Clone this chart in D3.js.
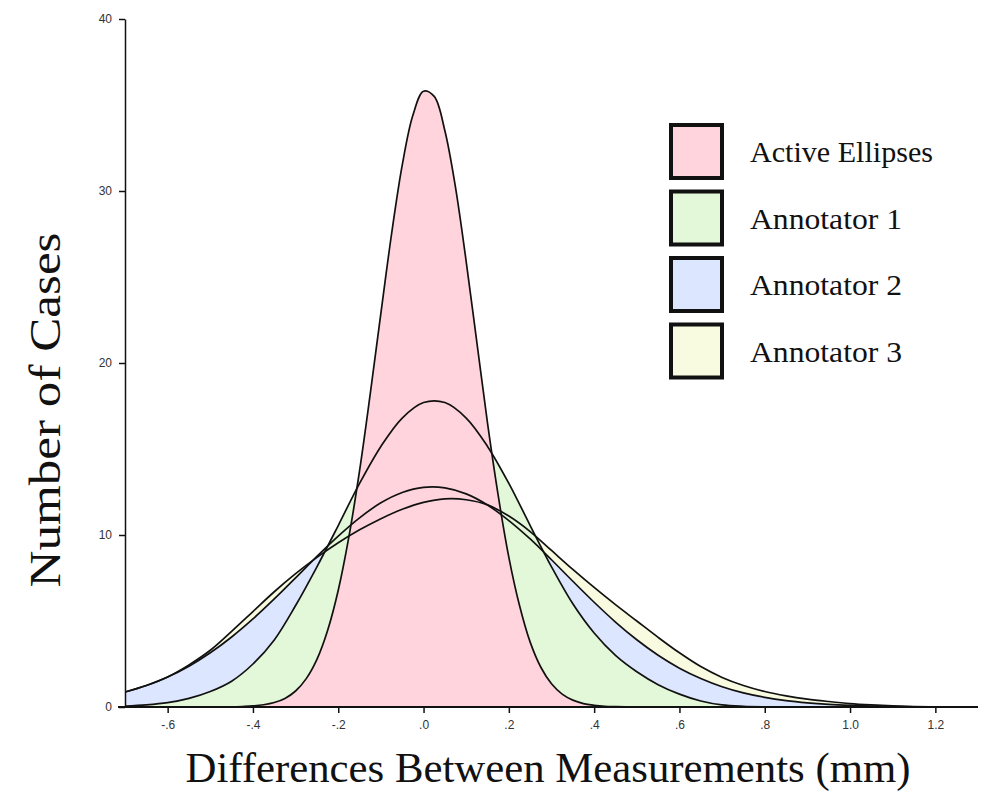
<!DOCTYPE html>
<html>
<head>
<meta charset="utf-8">
<script src="https://cdn.jsdelivr.net/npm/d3@7"></script>
<style>
  body { margin: 0; background: #fff; }
  svg { display: block; }
  .tick text { font-family: "Liberation Sans", Arial, sans-serif; font-size: 12px; fill: #333; }
  .title { font-family: "Liberation Serif", "Times New Roman", serif; fill: #111; }
</style>
</head>
<body>
<div id="chart"></div>
<script>
// --- data ---
const seriesNames = ["Active Ellipses", "Annotator 1", "Annotator 2", "Annotator 3"];
const seriesColors = ["#ffd4dc", "#e3f7d9", "#dde6ff", "#f9fbe0"];

// annotator curves share one x grid
const annX = [-0.7,-0.65,-0.6,-0.55,-0.5,-0.45,-0.4,-0.35,-0.3,-0.25,-0.2,-0.15,-0.1,-0.05,
  0,0.05,0.1,0.15,0.2,0.25,0.3,0.35,0.4,0.45,0.5,0.55,0.6,0.65,0.7,0.75,0.8,0.85,0.9,0.95,
  1.0,1.05,1.1,1.15,1.2,1.25,1.3];

const annotator1 = [0.05,0.12,0.25,0.5,0.9,1.5,2.5,3.9,5.9,8.15,10.55,13.0,15.15,16.8,
  17.7,17.7,16.8,15.15,13.0,10.55,8.15,6.0,4.3,3.0,2.05,1.3,0.75,0.35,0.12,0.04,0.01,0,0,0,
  0,0,0,0,0,0,0];

const annotator2 = [0.87,1.25,1.74,2.37,3.15,4.07,5.12,6.28,7.51,8.76,9.94,11.0,11.87,12.47,
  12.77,12.74,12.39,11.74,10.84,9.77,8.56,7.31,6.09,4.94,3.91,3.01,2.26,1.66,1.18,0.82,0.56,0.37,0.24,0.15,
  0.09,0.05,0.03,0.01,0,0,0];

const annotator3 = [0.87,1.25,1.75,2.45,3.3,4.4,5.55,6.7,7.75,8.7,9.55,10.3,10.95,11.5,
  11.9,12.1,12.05,11.75,11.1,10.2,9.1,8.0,6.95,5.95,5.0,4.05,3.15,2.35,1.72,1.25,0.9,0.65,0.46,0.32,
  0.2,0.12,0.06,0.02,0,0,0];

// active ellipses is narrow, so it gets a finer grid
const activeX = [-0.7,-0.5,-0.45,-0.425,-0.4,-0.375,-0.35,-0.325,-0.3,-0.275,-0.25,-0.225,-0.2,
  -0.175,-0.15,-0.125,-0.1,-0.075,-0.05,-0.025,0,0.025,0.05,0.075,0.1,0.125,0.15,0.175,0.2,
  0.225,0.25,0.275,0.3,0.325,0.35,0.375,0.4,0.425,0.45,0.5,0.6,1.3];
const activeEllipses = [0,0,0.01,0.03,0.06,0.13,0.26,0.50,0.93,1.65,2.77,4.45,6.79,
  9.9,13.74,18.2,22.9,27.5,31.5,34.4,35.8,35.5,33.5,30.2,25.9,21.2,16.5,12.3,8.7,
  5.9,3.77,2.31,1.35,0.75,0.40,0.20,0.10,0.04,0.02,0,0,0];

const xTicks = [-0.6,-0.4,-0.2,0,0.2,0.4,0.6,0.8,1.0,1.2];
const xTickLabels = ["-.6","-.4","-.2",".0",".2",".4",".6",".8","1.0","1.2"];
const yTicks = [0,10,20,30,40];

// --- setup ---
const width = 982, height = 796;
const svg = d3.select("#chart").append("svg")
    .attr("width", width)
    .attr("height", height);

const x = d3.scaleLinear().domain([-0.7, 1.3]).range([125, 978]);
const y = d3.scaleLinear().domain([0, 40]).range([707, 19]);

svg.append("clipPath").attr("id", "plot-clip")
  .append("rect")
    .attr("x", x(-0.7)).attr("y", y(40))
    .attr("width", x(1.3) - x(-0.7)).attr("height", y(0) - y(40));

// series in drawing order, back to front
const series = [
  { name: seriesNames[3], color: seriesColors[3], xs: annX, ys: annotator3 },
  { name: seriesNames[2], color: seriesColors[2], xs: annX, ys: annotator2 },
  { name: seriesNames[1], color: seriesColors[1], xs: annX, ys: annotator1 },
  { name: seriesNames[0], color: seriesColors[0], xs: activeX, ys: activeEllipses }
];

const area = d3.area()
    .x(d => x(d[0]))
    .y0(y(0))
    .y1(d => y(Math.max(0, d[1])))
    .curve(d3.curveCatmullRom.alpha(0.5));
const line = d3.line()
    .x(d => x(d[0]))
    .y(d => y(Math.max(0, d[1])))
    .curve(d3.curveCatmullRom.alpha(0.5));

const plot = svg.append("g").attr("clip-path", "url(#plot-clip)");

// fills first, then every outline on top
series.forEach(s => {
  plot.append("path")
      .datum(d3.zip(s.xs, s.ys))
      .attr("fill", s.color)
      .attr("d", area);
});
series.forEach(s => {
  plot.append("path")
      .datum(d3.zip(s.xs, s.ys))
      .attr("fill", "none")
      .attr("stroke", "#111")
      .attr("stroke-width", 1.7)
      .attr("d", line);
});

// --- axes ---
const yAxis = svg.append("g")
    .attr("transform", `translate(${x(-0.7)},0)`)
    .call(d3.axisLeft(y).tickValues(yTicks).tickSize(6).tickSizeOuter(0).tickPadding(7));
yAxis.select(".domain").attr("stroke", "#111").attr("stroke-width", 1.5);
yAxis.selectAll(".tick line").attr("stroke", "#111").attr("stroke-width", 1.5);

const xAxis = svg.append("g")
    .attr("transform", `translate(0,${y(0)})`)
    .call(d3.axisBottom(x).tickValues(xTicks)
      .tickFormat((d, i) => xTickLabels[i]).tickSize(6).tickSizeOuter(0).tickPadding(7));
xAxis.select(".domain").remove();
xAxis.selectAll(".tick line").attr("stroke", "#111").attr("stroke-width", 1.5);

svg.append("line")
    .attr("x1", x(-0.7) - 7).attr("x2", x(1.3))
    .attr("y1", y(0)).attr("y2", y(0))
    .attr("stroke", "#111").attr("stroke-width", 1.8);

// --- titles ---
svg.append("text")
    .attr("class", "title")
    .attr("x", 548).attr("y", 782)
    .attr("text-anchor", "middle")
    .attr("font-size", 42)
    .attr("textLength", 725)
    .attr("lengthAdjust", "spacingAndGlyphs")
    .text("Differences Between Measurements (mm)");

svg.append("text")
    .attr("class", "title")
    .attr("transform", "translate(60,410) rotate(-90)")
    .attr("text-anchor", "middle")
    .attr("font-size", 44)
    .attr("textLength", 355)
    .attr("lengthAdjust", "spacingAndGlyphs")
    .text("Number of Cases");

// --- legend ---
const legendOrder = [0, 1, 2, 3];
const legend = svg.append("g").attr("transform", "translate(671,125)");
const rows = legend.selectAll("g.row")
  .data(legendOrder)
  .enter().append("g")
    .attr("class", "row")
    .attr("transform", (d, i) => `translate(0,${i * 66.5})`);
rows.append("rect")
    .attr("width", 51).attr("height", 53)
    .attr("fill", d => seriesColors[d])
    .attr("stroke", "#111")
    .attr("stroke-width", 4);
rows.append("text")
    .attr("class", "title")
    .attr("x", 79).attr("y", 37)
    .attr("font-size", 29)
    .attr("textLength", d => d === 0 ? 183 : 152)
    .attr("lengthAdjust", "spacingAndGlyphs")
    .text(d => seriesNames[d]);
</script>
</body>
</html>
